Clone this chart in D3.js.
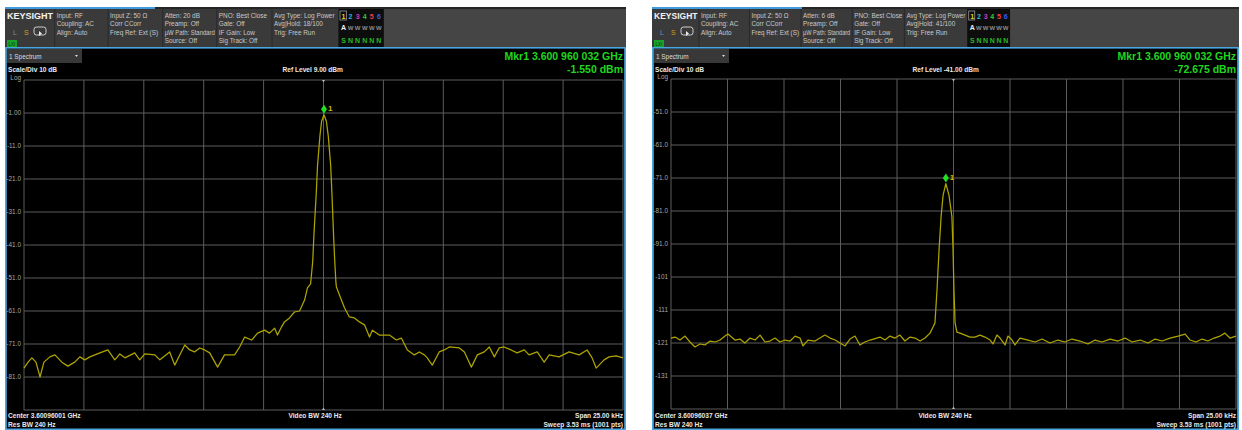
<!DOCTYPE html>
<html>
<head>
<meta charset="utf-8">
<script src="https://cdn.jsdelivr.net/npm/d3@7"></script>
<style>
  html, body { margin: 0; padding: 0; background: #fff; }
  svg { display: block; font-family: "Liberation Sans", Arial, sans-serif; }
</style>
</head>
<body>
<div id="chart"></div>
<script>
// trace data (offset from center in kHz, level in dBm)
const leftFreqKHz = [-12.50, -12.33, -12.17, -12.00, -11.83, -11.67, -11.42, -11.21, -10.92, -10.67, -10.38, -10.17, -9.96, -9.75,
  -9.33, -9.00, -8.71, -8.50, -8.29, -7.88, -7.67, -7.46, -7.04, -6.83, -6.42, -6.21, -5.79, -5.58, -5.38, -5.17, -4.96,
  -4.75, -4.42, -4.13, -3.71, -3.50, -3.29, -3.00, -2.75, -2.46, -2.25, -2.04, -1.92, -1.75, -1.63, -1.42, -1.21, -1.00,
  -0.79, -0.67, -0.54, -0.45, -0.40, -0.30, -0.25, -0.15, -0.08, 0.02, 0.12, 0.20, 0.30, 0.35, 0.42, 0.47, 0.52, 0.54,
  0.67, 0.88, 1.08, 1.29, 1.50, 1.71, 1.92, 2.04, 2.33, 2.75, 3.04, 3.25, 3.50, 3.79, 4.00, 4.21, 4.33, 4.54, 4.83, 5.04,
  5.25, 5.67, 5.88, 6.17, 6.42, 6.71, 6.92, 7.13, 7.33, 7.54, 7.83, 8.08, 8.38, 8.58, 8.92, 9.21, 9.42, 9.83, 10.25,
  10.67, 11.00, 11.21, 11.38, 11.71, 11.92, 12.21, 12.50];
const leftLevelDbm = [-78.3, -76.5, -75.2, -76.5, -81.0, -76.5, -74.9, -74.3, -76.5, -77.7, -76.5, -74.9, -75.8, -74.9,
  -73.7, -72.8, -75.8, -74.0, -75.2, -73.7, -75.8, -74.0, -74.3, -75.8, -73.4, -77.4, -71.3, -72.8, -73.4, -72.2, -72.8,
  -73.7, -78.0, -74.3, -74.3, -71.9, -68.9, -69.8, -67.7, -66.8, -67.7, -66.2, -68.3, -65.8, -64.3, -63.1, -61.3, -61.0,
  -57.7, -54.0, -52.8, -46.0, -38.0, -25.0, -17.0, -8.0, -3.5, -1.55, -3.5, -8.0, -17.0, -25.0, -38.0, -46.0, -52.5, -53.7,
  -56.2, -60.1, -62.8, -63.1, -64.3, -65.2, -68.9, -66.8, -68.3, -68.3, -69.8, -69.2, -72.8, -74.3, -73.4, -74.3, -75.2, -77.4,
  -73.4, -72.8, -71.9, -72.2, -73.4, -78.0, -74.3, -73.4, -71.9, -74.9, -72.2, -71.9, -72.8, -73.7, -72.8, -74.3, -73.4,
  -76.5, -74.3, -74.9, -73.4, -74.3, -72.8, -75.2, -78.3, -75.8, -74.9, -74.6, -75.2];

const rightFreqKHz = [-12.50, -12.32, -12.10, -11.88, -11.66, -11.44, -11.22, -11.00, -10.77, -10.55, -10.33, -10.11, -9.98,
  -9.67, -9.45, -9.23, -9.00, -8.78, -8.56, -8.34, -8.12, -7.90, -7.68, -7.46, -7.23, -7.01, -6.79, -6.66, -6.44, -6.13,
  -5.91, -5.69, -5.46, -5.24, -5.02, -4.80, -4.58, -4.36, -4.14, -3.92, -3.69, -3.25, -3.03, -2.81, -2.59, -2.37, -2.15,
  -1.92, -1.70, -1.48, -1.26, -1.04, -0.91, -0.82, -0.73, -0.64, -0.55, -0.46, -0.34, -0.20, -0.07, -0.02, 0.02, 0.07,
  0.15, 0.29, 0.51, 0.73, 0.95, 1.17, 1.39, 1.62, 1.75, 1.92, 2.06, 2.28, 2.41, 2.59, 2.72, 2.94, 3.30, 3.61, 3.92, 4.27,
  4.62, 4.93, 5.24, 5.60, 5.95, 6.26, 6.57, 6.93, 7.28, 7.59, 7.90, 8.26, 8.61, 8.92, 9.23, 9.58, 9.94, 10.25, 10.47,
  10.73, 11.00, 11.26, 11.53, 11.79, 12.01, 12.23, 12.50];
const rightLevelDbm = [-119.5, -119.2, -120.1, -118.9, -120.7, -122.2, -121.3, -121.6, -120.4, -120.7, -120.1, -118.9, -118.3,
  -120.1, -119.8, -121.0, -119.5, -120.1, -118.6, -120.7, -120.4, -119.5, -120.7, -120.1, -120.4, -118.9, -119.5, -121.9,
  -120.1, -120.4, -119.5, -118.6, -119.5, -120.1, -121.0, -121.9, -119.8, -118.9, -121.6, -120.7, -120.1, -119.2, -120.1,
  -118.9, -119.5, -118.6, -120.4, -119.2, -119.5, -120.4, -119.5, -118.0, -116.2, -114.9, -104.9, -92.8, -82.8, -76.2,
  -72.675, -76.2, -82.8, -92.8, -104.9, -114.9, -117.7, -118.0, -118.6, -119.2, -119.2, -118.6, -119.2, -120.1, -121.3,
  -118.6, -119.5, -121.6, -118.9, -120.1, -121.6, -119.5, -120.1, -120.7, -119.8, -121.0, -120.1, -120.7, -119.8, -120.4,
  -121.3, -120.1, -120.7, -119.8, -120.4, -119.5, -120.7, -120.1, -121.0, -119.8, -120.4, -119.5, -118.9, -118.3, -120.1,
  -120.7, -119.8, -120.4, -119.5, -118.9, -118.0, -119.5, -118.9];

const leftYTickLabels = ['Log', '-1.00', '-11.0', '-21.0', '-31.0', '-41.0', '-51.0', '-61.0', '-71.0', '-81.0'];
const rightYTickLabels = ['Log', '-51.0', '-61.0', '-71.0', '-81.0', '-91.0', '-101', '-111', '-121', '-131'];

const leftHeader = [
  ['Input: RF', 'Coupling: AC', 'Align: Auto'],
  ['Input Z: 50 Ω', 'Corr CCorr', 'Freq Ref: Ext (S)'],
  ['Atten: 20 dB', 'Preamp: Off', 'µW Path: Standard', 'Source: Off'],
  ['PNO: Best Close', 'Gate: Off', 'IF Gain: Low', 'Sig Track: Off'],
  ['Avg Type: Log Power', 'Avg|Hold: 18/100', 'Trig: Free Run']
];
const rightHeader = [
  ['Input: RF', 'Coupling: AC', 'Align: Auto'],
  ['Input Z: 50 Ω', 'Corr CCorr', 'Freq Ref: Ext (S)'],
  ['Atten: 6 dB', 'Preamp: Off', 'µW Path: Standard', 'Source: Off'],
  ['PNO: Best Close', 'Gate: Off', 'IF Gain: Low', 'Sig Track: Off'],
  ['Avg Type: Log Power', 'Avg|Hold: 41/100', 'Trig: Free Run']
];

const traceDigits = ['1', '2', '3', '4', '5', '6'];
const traceDigitColors = ['#e8d800', '#22b8ee', '#c23fc8', '#33c933', '#ee3d5a', '#3c5cf0'];
const traceModes = ['A', 'W', 'W', 'W', 'W', 'W'];
const traceDetectors = ['S', 'N', 'N', 'N', 'N', 'N'];

const panels = [
  {
    x0: 5, x1: 626, plotTop: 80, plotBottom: 410,
    refLevel: 9, header: leftHeader, yLabels: leftYTickLabels,
    freq: leftFreqKHz, level: leftLevelDbm,
    mkrFreq: 0.022, mkrLevel: -1.55,
    mkrText: 'Mkr1  3.600 960 032 GHz', mkrValue: '-1.550 dBm',
    refText: 'Ref Level 9.00 dBm', centerText: 'Center 3.60096001 GHz'
  },
  {
    x0: 652, x1: 1239, plotTop: 79, plotBottom: 409,
    refLevel: -41, header: rightHeader, yLabels: rightYTickLabels,
    freq: rightFreqKHz, level: rightLevelDbm,
    mkrFreq: -0.338, mkrLevel: -72.675,
    mkrText: 'Mkr1  3.600 960 032 GHz', mkrValue: '-72.675 dBm',
    refText: 'Ref Level -41.00 dBm', centerText: 'Center 3.60096037 GHz'
  }
];

const W = 1242, H = 430;
const svg = d3.select('#chart').append('svg').attr('width', W).attr('height', H);
svg.append('rect').attr('width', W).attr('height', H).attr('fill', '#fff');

const colFrac = [0.08, 0.166, 0.254, 0.341, 0.43, 0.537, 0.61];

function drawPanel(p) {
  const w = p.x1 - p.x0;
  const g = svg.append('g');
  const colX = colFrac.map(f => p.x0 + f * w);

  // header strip
  g.append('rect').attr('x', p.x0).attr('y', 8).attr('width', w).attr('height', 40).attr('fill', '#3a3a3a');
  g.append('rect').attr('x', colX[6]).attr('y', 9).attr('width', p.x1 - colX[6]).attr('height', 38).attr('fill', '#454545');
  g.append('rect').attr('x', p.x0).attr('y', 7).attr('width', w).attr('height', 2).attr('fill', '#262626');
  g.append('rect').attr('x', p.x0).attr('y', 7).attr('width', 150).attr('height', 2).attr('fill', '#3e9bdc');

  colX.slice(0, 5).forEach(cx => {
    g.append('line').attr('x1', cx).attr('x2', cx).attr('y1', 9).attr('y2', 47)
      .attr('stroke', '#2a2a2a').attr('stroke-width', 1);
  });

  g.append('text').attr('x', p.x0 + 2).attr('y', 19)
    .attr('textLength', 46 * w / 621).attr('lengthAdjust', 'spacingAndGlyphs')
    .style('font-size', '9px').style('font-weight', 'bold').style('fill', '#f2f2f2')
    .text('KEYSIGHT');
  g.append('text').attr('x', p.x0 + 8).attr('y', 35).style('font-size', '7px').style('fill', '#6d8fb8').text('L');
  g.append('text').attr('x', p.x0 + 19).attr('y', 35).style('font-size', '7px').style('fill', '#d49a1e').text('S');
  g.append('rect').attr('x', p.x0 + 29).attr('y', 27).attr('width', 12).attr('height', 8).attr('rx', 2.5)
    .attr('fill', 'none').attr('stroke', '#cfcfcf').attr('stroke-width', 1);
  g.append('path').attr('d', `M${p.x0 + 34},31 l3,2.5 l-3,2.5 z`).attr('fill', '#eee');
  g.append('rect').attr('x', p.x0 + 2).attr('y', 40).attr('width', 10).attr('height', 7).attr('fill', '#17a32c');
  g.append('text').attr('x', p.x0 + 7).attr('y', 46).attr('text-anchor', 'middle')
    .style('font-size', '4.5px').style('fill', '#0a3a0a').text('LXI');

  p.header.forEach((col, i) => {
    const maxW = colX[i + 1] - colX[i] - 4;
    col.forEach((t, j) => {
      const txt = g.append('text').attr('x', colX[i] + 2).attr('y', 17.5 + j * 8.6)
        .style('font-size', '6.4px').style('fill', '#c9c9c9').text(t);
      // squeeze lines that would run into the next column
      if (txt.node().getComputedTextLength() > maxW) {
        txt.attr('textLength', maxW).attr('lengthAdjust', 'spacingAndGlyphs');
      }
    });
  });

  // trace indicator box
  const bx = colX[5], bw = colX[6] - colX[5];
  g.append('rect').attr('x', bx).attr('y', 9).attr('width', bw).attr('height', 38).attr('fill', '#0d0d0d');
  const step = bw / 6.4;
  g.append('rect').attr('x', bx + 1.5).attr('y', 11).attr('width', step * 0.9).attr('height', 9)
    .attr('fill', 'none').attr('stroke', '#9a9a9a').attr('stroke-width', 0.8);
  traceDigits.forEach((d, i) => {
    const tx = bx + 5 + i * step;
    g.append('text').attr('x', tx).attr('y', 18.5).attr('text-anchor', 'middle')
      .style('font-size', '7px').style('font-weight', 'bold').style('fill', traceDigitColors[i]).text(d);
    g.append('text').attr('x', tx).attr('y', 30).attr('text-anchor', 'middle')
      .style('font-size', i === 0 ? '7px' : '6px').style('font-weight', 'bold')
      .style('fill', i === 0 ? '#f0f0f0' : '#8c8c8c').text(traceModes[i]);
    g.append('text').attr('x', tx).attr('y', 43).attr('text-anchor', 'middle')
      .style('font-size', '7px').style('font-weight', 'bold').style('fill', '#27b827').text(traceDetectors[i]);
  });

  // screen
  g.append('rect').attr('x', p.x0).attr('y', 48).attr('width', w).attr('height', H - 48).attr('fill', '#000');
  g.append('rect').attr('x', p.x0).attr('y', 47).attr('width', w).attr('height', 1.6).attr('fill', '#4aa6df');
  g.append('rect').attr('x', p.x0).attr('y', 47).attr('width', 1.8).attr('height', H - 47).attr('fill', '#4aa6df');
  g.append('rect').attr('x', p.x1 - 1.8).attr('y', 47).attr('width', 1.8).attr('height', H - 47).attr('fill', '#4aa6df');
  g.append('rect').attr('x', p.x0).attr('y', H - 1.5).attr('width', w).attr('height', 1.5).attr('fill', '#4aa6df');

  // "1 Spectrum" tab
  g.append('rect').attr('x', p.x0 + 2).attr('y', 49).attr('width', 75).attr('height', 14).attr('fill', '#383838');
  g.append('text').attr('x', p.x0 + 4).attr('y', 58.5).style('font-size', '6.4px').style('fill', '#dcdcdc').text('1 Spectrum');
  g.append('path').attr('d', `M${p.x0 + 70},55 l3,0 l-1.5,2 z`).attr('fill', '#ddd');

  const plotL = p.x0 + 19, plotR = p.x1 - 3;
  const x = d3.scaleLinear().domain([-12.5, 12.5]).range([plotL, plotR]);
  const y = d3.scaleLinear().domain([p.refLevel - 100, p.refLevel]).range([p.plotBottom, p.plotTop]);
  const cx = x(0);

  // grid
  const xTicks = d3.range(11).map(i => -12.5 + i * 2.5);
  const yTicks = d3.range(11).map(i => p.refLevel - i * 10);
  g.selectAll(null).data(xTicks).join('line')
    .attr('x1', d => x(d)).attr('x2', d => x(d)).attr('y1', p.plotTop).attr('y2', p.plotBottom)
    .attr('stroke', '#5c5c5c').attr('stroke-width', 1);
  g.selectAll(null).data(yTicks).join('line')
    .attr('x1', plotL).attr('x2', plotR).attr('y1', d => y(d)).attr('y2', d => y(d))
    .attr('stroke', '#5c5c5c').attr('stroke-width', 1);

  // y labels
  g.selectAll(null).data(p.yLabels).join('text')
    .attr('x', plotL - 3).attr('y', (d, i) => y(yTicks[i]) + (i === 0 ? 0 : 2.3))
    .attr('text-anchor', 'end')
    .style('font-size', '6.4px').style('fill', '#a8a8a8')
    .text(d => d);

  // center ticks
  g.append('path').attr('d', `M${cx - 1.5},${p.plotTop} l3,0 l-1.5,2.5 z`).attr('fill', '#bbb');
  g.append('path').attr('d', `M${cx - 1.5},${p.plotBottom} l3,0 l-1.5,-2.5 z`).attr('fill', '#bbb');

  // annotations
  g.append('text').attr('x', p.x0 + 3).attr('y', 72).style('font-size', '6.6px').style('font-weight', 'bold')
    .style('fill', '#e8e8e8').text('Scale/Div 10 dB');
  g.append('text').attr('x', cx - 41).attr('y', 72).style('font-size', '6.6px').style('font-weight', 'bold')
    .style('fill', '#e8e8e8').text(p.refText);
  g.append('text').attr('x', plotR).attr('y', 60).attr('text-anchor', 'end')
    .style('font-size', '10.5px').style('font-weight', 'bold').style('fill', '#1fd61f').text(p.mkrText);
  g.append('text').attr('x', plotR).attr('y', 73).attr('text-anchor', 'end')
    .style('font-size', '10.5px').style('font-weight', 'bold').style('fill', '#1fd61f').text(p.mkrValue);

  g.append('text').attr('x', p.x0 + 3).attr('y', 418).style('font-size', '6.6px').style('font-weight', 'bold')
    .style('fill', '#e8e8e8').text(p.centerText);
  g.append('text').attr('x', p.x0 + 3).attr('y', 427).style('font-size', '6.6px').style('font-weight', 'bold')
    .style('fill', '#e8e8e8').text('Res BW 240 Hz');
  g.append('text').attr('x', cx - 35).attr('y', 418).style('font-size', '6.6px').style('font-weight', 'bold')
    .style('fill', '#e8e8e8').text('Video BW 240 Hz');
  g.append('text').attr('x', plotR).attr('y', 418).attr('text-anchor', 'end').style('font-size', '6.6px')
    .style('font-weight', 'bold').style('fill', '#e8e8e8').text('Span 25.00 kHz');
  g.append('text').attr('x', plotR).attr('y', 427).attr('text-anchor', 'end').style('font-size', '6.6px')
    .style('font-weight', 'bold').style('fill', '#e8e8e8').text('Sweep 3.53 ms (1001 pts)');

  // trace
  const pts = p.freq.map((f, i) => [f, p.level[i]]);
  const line = d3.line().x(d => x(d[0])).y(d => y(d[1]));
  g.append('path').datum(pts).attr('d', line)
    .attr('fill', 'none').attr('stroke', '#aea400').attr('stroke-width', 1.25).attr('stroke-linejoin', 'round');

  // marker
  const mx = x(p.mkrFreq), my = y(p.mkrLevel);
  g.append('path').attr('d', `M${mx},${my - 10} l3,4.5 l-3,4.5 l-3,-4.5 z`).attr('fill', '#22e022');
  g.append('text').attr('x', mx + 4).attr('y', my - 4).style('font-size', '8px').style('font-weight', 'bold')
    .style('fill', '#c9b800').text('1');
}

panels.forEach(drawPanel);
</script>
</body>
</html>
